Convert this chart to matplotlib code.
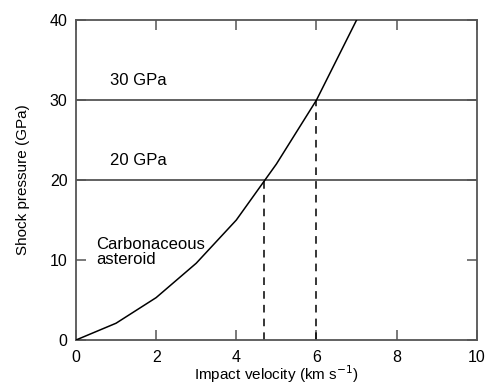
import matplotlib.pyplot as plt
import numpy as np

plt.rcParams['font.family'] = ['Liberation Sans', 'DejaVu Sans']

# impact velocity (km/s) vs shock pressure (GPa), carbonaceous asteroid
velocity = [0, 1, 2, 3, 4, 5, 6, 7]
pressure = [0, 2.1, 5.3, 9.6, 15.0, 22.0, 30.0, 40.0]

thresholds = [20, 30]
threshold_labels = ['20 GPa', '30 GPa']
threshold_velocity = [4.7, 6.0]

fig = plt.figure(figsize=(4.87, 3.87), dpi=100)
ax = fig.add_axes([0.156, 0.1214, 0.823, 0.8266])

axis_col = '#555555'
for p, lab in zip(thresholds, threshold_labels):
    ax.axhline(p, color=axis_col, lw=1.3, zorder=1)
    ax.text(0.85, p + 1.5, lab, fontsize=12, va='bottom', ha='left')

for v, p in zip(threshold_velocity, thresholds):
    ax.plot([v, v], [0, p], color='black', lw=1.1, ls=(0, (5, 4)))

ax.plot(velocity, pressure, color='black', lw=1.1, zorder=3)
ax.text(0.5, 11, 'Carbonaceous\nasteroid', fontsize=12, va='center', ha='left',
        linespacing=1.05)

ax.set_xlim(0, 10)
ax.set_ylim(0, 40)
ax.set_xticks(np.arange(0, 11, 2))
ax.set_yticks(np.arange(0, 41, 10))
ax.tick_params(direction='in', length=7, width=1.1, color=axis_col,
               top=True, right=True, labelsize=11.5)
ax.tick_params(axis='x', pad=7)
ax.tick_params(axis='y', pad=6)
for s in ax.spines.values():
    s.set_color(axis_col)
    s.set_linewidth(1.3)

ax.set_xlabel('Impact velocity (km s$^{-1}$)', fontsize=11, labelpad=-1)
ax.set_ylabel('Shock pressure (GPa)', fontsize=11, labelpad=14)

fig.savefig('out.png', dpi=100)
